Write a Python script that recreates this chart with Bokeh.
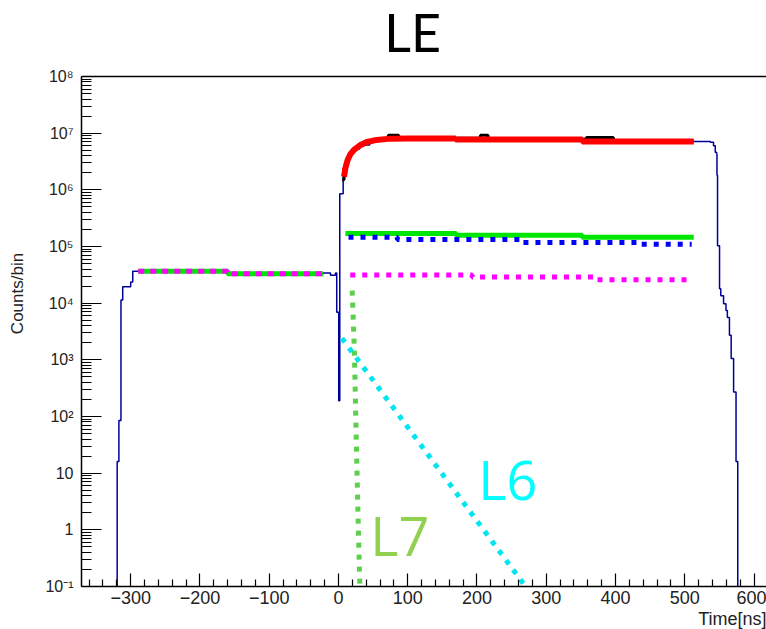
from bokeh.plotting import figure
from bokeh.models import Range1d, FixedTicker, Label, Title, Span
from bokeh.embed import file_html
from bokeh.resources import INLINE

# ---------------- data ----------------
# blue histogram (step, value of each bin starting at edge)
hist_edges = [-371, -319.5, -317, -314, -311.5, -300, -297, -160, -22, -11.5, -4.3, -2.5, 0.4, 1.9,
              6.8, 9, 12, 16, 22, 30, 45, 65, 90, 170, 352, 513, 537, 541.5, 544, 546, 546.5,
              547.3, 550.2, 552, 556, 559.5, 561.5, 564.5, 567, 570.5, 574, 576.5, 618]
hist_counts = [1e-3, 16, 85, 11400, 19500, 23500, 36500, 33500, 34000, 31000, 34000, 6900, 190, 850000,
               1.66e6, 2.6e6, 3.5e6, 4.4e6, 5.3e6, 6.2e6, 7.2e6, 7.9e6, 8.1e6, 7.8e6, 7.15e6, 7.14e6, 6.9e6,
               6.0e6, 4.6e6, 4.3e6, 1.8e6, 1.03e5, 1.8e4, 1.35e4, 9800, 7400, 5600, 2700, 1050, 270, 16,
               1e-3, 1e-3]

# black histogram (mostly under the red fit)
black_edges = [5.5, 8, 10, 13, 17, 22, 30, 40, 55, 72, 87, 205, 216, 358, 397, 513]
black_counts = [1.5e6, 2.4e6, 3.0e6, 3.8e6, 4.6e6, 5.4e6, 6.4e6, 7.2e6, 7.7e6, 9.2e6, 8.1e6, 9.2e6,
                7.8e6, 8.4e6, 7.2e6, 7.2e6]

# red fit
red_x = [8, 10, 13, 17, 22, 30, 40, 55, 75, 100, 169, 169, 352, 352, 513]
red_y = [1.7e6, 2.4e6, 3.3e6, 4.2e6, 5.0e6, 6.0e6, 6.9e6, 7.6e6, 8.0e6, 8.06e6, 8.06e6, 7.76e6,
         7.76e6, 7.14e6, 7.14e6]

# green solid (right)
green_x = [10, 170, 352, 513]
green_y = [1.70e5, 1.57e5, 1.45e5, 1.45e5]

# blue dotted
bdot_x = [14.5, 85, 262, 436, 510]
bdot_y = [1.45e5, 1.33e5, 1.18e5, 1.10e5, 1.10e5]

# magenta dotted (right)
mag_x = [17, 193, 371, 510]
mag_y = [31500, 28800, 26000, 26000]

# left plateau (green solid + magenta dotted)
left_x = [-289, -160, -22]
left_y = [36500, 33000, 33000]

# L7 component
l7_x = [19.8, 23.0, 25.5, 28.3, 30.7, 31.0]
l7_y = [16600, 1450, 50, 1.7, 0.12, 0.1]

# L6 component
l6_x = [5, 270]
l6_y = [2400, 0.1]

x_major = [-300, -200, -100, 0, 100, 200, 300, 400, 500, 600]
y_major = [0.1, 1, 10, 100, 1e3, 1e4, 1e5, 1e6, 1e7, 1e8]
y_labels = ["10\u207b\u00b9", "1", "10", "10\u00b2", "10\u00b3", "10\u2074", "10\u2075", "10\u2076",
            "10\u2077", "10\u2078"]

Y_AXIS_MIN, Y_AXIS_MAX = 0.1, 1e8
Y_VIEW_MAX = 2.19e9   # the view reaches above the axis top so the title sits inside the canvas

# ---------------- figure ----------------
p = figure(width=766, height=629, x_range=Range1d(-371, 618), y_range=Range1d(Y_AXIS_MIN, Y_VIEW_MAX),
           y_axis_type="log", output_backend="svg", toolbar_location=None,
           min_border_left=81, min_border_right=0, min_border_top=0, min_border_bottom=43)
p.outline_line_color = None
p.xgrid.visible = False
p.ygrid.visible = False
p.background_fill_color = "white"
p.border_fill_color = "white"

FONT = "Liberation Sans"

x_minor = [v for v in range(-360, 620, 20) if v % 100 != 0]
p.xaxis.ticker = FixedTicker(ticks=x_major, minor_ticks=x_minor)
p.xaxis.major_label_overrides = {v: (str(v).replace("-", "\u2212")) for v in x_major}
p.xaxis.major_tick_in = 13
p.xaxis.major_tick_out = 0
p.xaxis.minor_tick_in = 7
p.xaxis.minor_tick_out = 0
p.xaxis.major_label_standoff = 4
p.xaxis.major_label_text_font = FONT
p.xaxis.major_label_text_font_size = "18px"
p.xaxis.major_label_text_color = "#222222"

y_minor = [m * 10.0 ** k for k in range(-1, 8) for m in range(2, 10)]
p.yaxis.ticker = FixedTicker(ticks=y_major, minor_ticks=y_minor)
p.yaxis.bounds = (Y_AXIS_MIN, Y_AXIS_MAX)
p.yaxis.major_label_overrides = dict(zip(y_major, y_labels))
p.yaxis.major_tick_in = 20
p.yaxis.major_tick_out = 0
p.yaxis.minor_tick_in = 10
p.yaxis.minor_tick_out = 0
p.yaxis.major_label_standoff = 8
p.yaxis.major_label_text_font = FONT
p.yaxis.major_label_text_font_size = "16px"
p.yaxis.major_label_text_color = "#222222"
p.yaxis.axis_label = "Counts/bin"
p.yaxis.axis_label_text_font = FONT
p.yaxis.axis_label_text_font_size = "17px"
p.yaxis.axis_label_text_font_style = "normal"
p.yaxis.axis_label_text_color = "#222222"
p.yaxis.axis_label_standoff = 15

for ax in (p.xaxis, p.yaxis):
    ax.axis_line_color = "black"
    ax.axis_line_width = 1.5
    ax.major_tick_line_color = "black"
    ax.minor_tick_line_color = "black"
    ax.major_tick_line_width = 1.2
    ax.minor_tick_line_width = 1.2

# top edge of the frame
p.add_layout(Span(location=Y_AXIS_MAX, dimension="width", line_color="black", line_width=1.5))

p.add_layout(Title(text="Time[ns]", align="right", standoff=0, text_font=FONT,
                   text_font_size="18px", text_font_style="normal", text_color="#222222"), "below")

# ---------------- glyphs ----------------
p.step(hist_edges, hist_counts, mode="after", line_color="#000099", line_width=1.5)

p.step(left_x, left_y, mode="after", line_color="#00E600", line_width=5)
p.step(left_x, left_y, mode="after", line_color="#FF00FF", line_width=5, line_dash="6 6")

p.step(black_edges, black_counts, mode="after", line_color="black", line_width=3)
p.line(red_x, red_y, line_color="#FF0000", line_width=6)

p.step(green_x, green_y, mode="after", line_color="#00E600", line_width=5)
p.step(bdot_x, bdot_y, mode="after", line_color="#0000FF", line_width=5, line_dash="5 7")
p.step(mag_x, mag_y, mode="after", line_color="#FF00FF", line_width=5, line_dash="5 7")

p.line(l7_x, l7_y, line_color="#5CCF4C", line_width=5, line_dash="5 7")
p.line(l6_x, l6_y, line_color="#00E5EE", line_width=5, line_dash="5 7")

# ---------------- texts ----------------
p.add_layout(Label(x=107, y=6.2e8, text="LE", text_align="center", text_baseline="alphabetic",
                   text_font="Lato", text_font_size="52px", text_color="black"))
p.add_layout(Label(x=46, y=0.82, text="L7", text_align="left", text_baseline="alphabetic",
                   text_font="Open Sans", text_font_size="54px", text_color="#92D050"))
p.add_layout(Label(x=202, y=8.0, text="L6", text_align="left", text_baseline="alphabetic",
                   text_font="Open Sans", text_font_size="54px", text_color="#00FFFF"))

open("out.html", "w").write(file_html(p, INLINE))
